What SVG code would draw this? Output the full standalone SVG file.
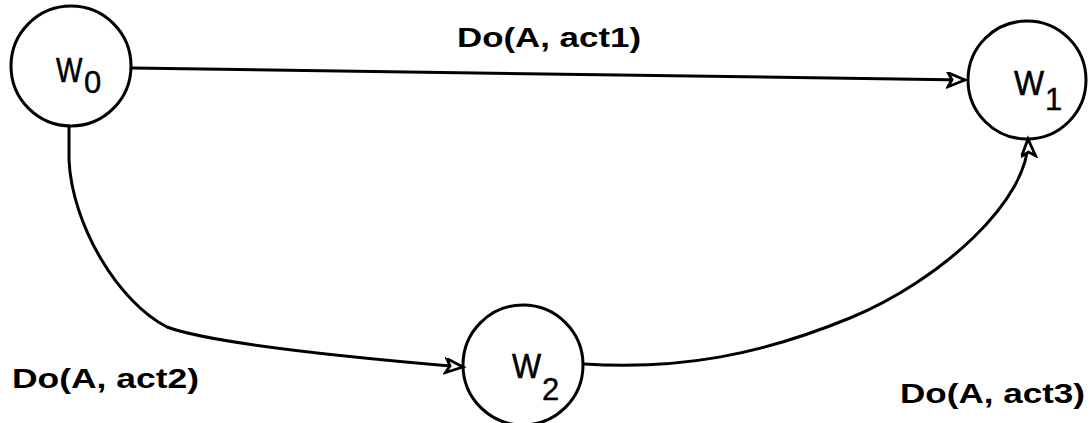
<svg xmlns="http://www.w3.org/2000/svg" width="1090" height="423" viewBox="0 0 1090 423">
<defs>
<style>
.node{fill:none;stroke:#000;stroke-width:3}
.edge{fill:none;stroke:#000;stroke-width:3}
.lbl{font-family:"Liberation Sans",Arial,sans-serif;font-weight:bold;font-size:28px;fill:#000}
.nm{font-family:"Liberation Sans",Arial,sans-serif;font-size:35px;fill:#000;stroke:#000;stroke-width:0.6}
.sub{font-family:"Liberation Sans",Arial,sans-serif;font-size:31px;fill:#000;stroke:#000;stroke-width:0.4}
</style>
<marker id="arr" markerUnits="userSpaceOnUse" markerWidth="24" markerHeight="18" refX="19" refY="8" orient="auto">
<path d="M2,1 L19,8 L2,15 L6,8 Z" fill="#fff" stroke="#000" stroke-width="2.8" stroke-linejoin="miter"/>
</marker>
</defs>
<rect width="1090" height="423" fill="#fff"/>
<g id="connectors">
<path class="edge" d="M132,68 L965,80" marker-end="url(#arr)"/>
<path class="edge" d="M69,126 L69,160 C72,225 118,302 167,327 C215,345 380,360 463,367" marker-end="url(#arr)"/>
<path class="edge" d="M584,364 C680,370 760,355 850,318 C940,281 1030,200 1028,139" marker-end="url(#arr)"/>
</g>
<g id="w0">
<circle class="node" cx="71" cy="66" r="60"/>
<text class="nm" transform="translate(56,82) scale(0.8,1)" x="0" y="0">W</text>
<text class="sub" x="84" y="93">0</text>
</g>
<g id="w1">
<circle class="node" cx="1027" cy="80" r="59"/>
<text class="nm" transform="translate(1014,95) scale(0.91,1)" x="0" y="0">W</text>
<text class="sub" x="1045" y="110">1</text>
</g>
<g id="w2">
<circle class="node" cx="523" cy="365" r="60"/>
<text class="nm" transform="translate(512,378) scale(0.88,1)" x="0" y="0">W</text>
<text class="sub" x="542" y="400">2</text>
</g>
<g id="labels">
<text class="lbl" x="457" y="47" textLength="184" lengthAdjust="spacingAndGlyphs">Do(A, act1)</text>
<text class="lbl" x="12" y="388" textLength="187" lengthAdjust="spacingAndGlyphs">Do(A, act2)</text>
<text class="lbl" x="900" y="403" textLength="185" lengthAdjust="spacingAndGlyphs">Do(A, act3)</text>
</g>
</svg>
